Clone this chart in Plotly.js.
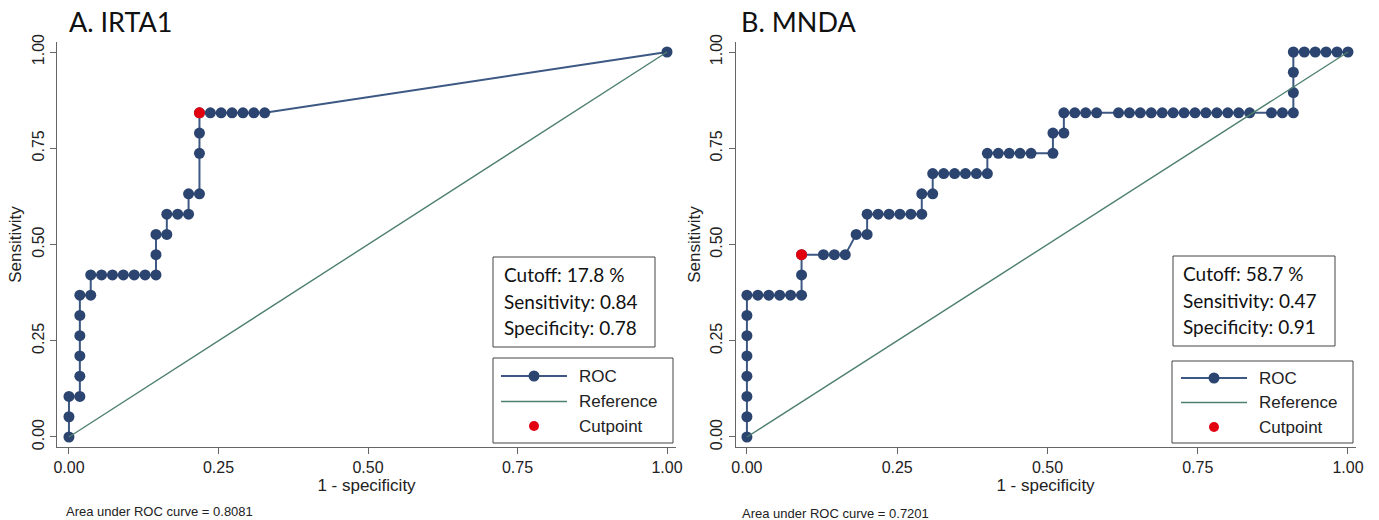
<!DOCTYPE html>
<html>
<head>
<meta charset="utf-8">
<script src="https://cdn.plot.ly/plotly-3.0.1.min.js"></script>
<style>html,body{margin:0;padding:0;background:#fff;}#chart{width:1379px;height:520px;}</style>
</head>
<body>
<div id="chart"></div>
<script>
// ---------- data ----------
// A. IRTA1 : 1 - specificity (x) and sensitivity (y)
var irtaX = [0,0,0,0.0182,0.0182,0.0182,0.0182,0.0182,0.0182,0.0364,0.0364,
  0.0545,0.0727,0.0909,0.1091,0.1273,0.1455,0.1455,0.1455,0.1636,0.1636,0.1818,
  0.2,0.2,0.2182,0.2182,0.2182,0.2182,0.2364,0.2545,0.2727,0.2909,0.3091,0.3273,1];
var irtaY = [0,0.0526,0.1053,0.1053,0.1579,0.2105,0.2632,0.3158,0.3684,0.3684,0.4211,
  0.4211,0.4211,0.4211,0.4211,0.4211,0.4211,0.4737,0.5263,0.5263,0.5789,0.5789,
  0.5789,0.6316,0.6316,0.7368,0.7895,0.8421,0.8421,0.8421,0.8421,0.8421,0.8421,0.8421,1];
var irtaCutX = [0.2182];
var irtaCutY = [0.8421];

// B. MNDA
var mndaX = [0,0,0,0,0,0,0,0,
  0.0182,0.0364,0.0545,0.0727,
  0.0909,0.0909,0.0909,
  0.1273,0.1455,0.1636,
  0.1818,
  0.2,0.2,
  0.2182,0.2364,0.2545,0.2727,
  0.2909,0.2909,
  0.3091,0.3091,
  0.3273,0.3455,0.3636,0.3818,
  0.4,0.4,
  0.4182,0.4364,0.4545,0.4727,
  0.5091,0.5091,
  0.5273,0.5273,
  0.5455,0.5636,0.5818,
  0.6182,0.6364,0.6545,0.6727,0.6909,0.7091,0.7273,0.7455,0.7636,0.7818,0.8,0.8182,0.8364,
  0.8727,0.8909,
  0.9091,0.9091,0.9091,0.9091,
  0.9273,0.9455,0.9636,0.9818,1];
var mndaY = [0,0.0526,0.1053,0.1579,0.2105,0.2632,0.3158,0.3684,
  0.3684,0.3684,0.3684,0.3684,
  0.3684,0.4211,0.4737,
  0.4737,0.4737,0.4737,
  0.5263,
  0.5263,0.5789,
  0.5789,0.5789,0.5789,0.5789,
  0.5789,0.6316,
  0.6316,0.6842,
  0.6842,0.6842,0.6842,0.6842,
  0.6842,0.7368,
  0.7368,0.7368,0.7368,0.7368,
  0.7368,0.7895,
  0.7895,0.8421,
  0.8421,0.8421,0.8421,
  0.8421,0.8421,0.8421,0.8421,0.8421,0.8421,0.8421,0.8421,0.8421,0.8421,0.8421,0.8421,0.8421,
  0.8421,0.8421,
  0.8421,0.8947,0.9474,1,
  1,1,1,1,1];
var mndaCutX = [0.0909];
var mndaCutY = [0.4737];

var refX = [0, 1];
var refY = [0, 1];

var tickVals = [0, 0.25, 0.5, 0.75, 1];
var tickText = ['0.00', '0.25', '0.50', '0.75', '1.00'];

var panelTitles = ['A. IRTA1', 'B. MNDA'];
var boxLines = [
  ['Cutoff: 17.8 %', 'Sensitivity: 0.84', 'Specificity: 0.78'],
  ['Cutoff: 58.7 %', 'Sensitivity: 0.47', 'Specificity: 0.91']
];
var aucText = ['Area under ROC curve = 0.8081', 'Area under ROC curve = 0.7201'];
var legendNames = ['ROC', 'Reference', 'Cutpoint'];

// ---------- styling ----------
var W = 1379, H = 520;
var NAVY = '#2b4570', NAVYLINE = '#3d5883', GREEN = '#4f806e', RED = '#e3000e';
var AX = '#666666';
var SANS = 'Liberation Sans, Arial, sans-serif';
var CAL = 'Lato, Open Sans, sans-serif';
function px(x) { return x / W; }
function py(y) { return 1 - y / H; }

function rocTrace(x, y, xa, ya) {
  return {x: x, y: y, xaxis: xa, yaxis: ya, type: 'scatter', mode: 'lines+markers',
    line: {color: NAVYLINE, width: 2}, marker: {color: NAVY, size: 11, line: {width: 0}},
    showlegend: false, hoverinfo: 'x+y'};
}
function refTrace(xa, ya) {
  return {x: refX, y: refY, xaxis: xa, yaxis: ya, type: 'scatter', mode: 'lines',
    line: {color: GREEN, width: 1.4}, showlegend: false, hoverinfo: 'skip'};
}
function cutTrace(x, y, xa, ya) {
  return {x: x, y: y, xaxis: xa, yaxis: ya, type: 'scatter', mode: 'markers',
    marker: {color: RED, size: 11, line: {width: 0}}, showlegend: false};
}

var data = [
  rocTrace(irtaX, irtaY, 'x', 'y'), refTrace('x', 'y'), cutTrace(irtaCutX, irtaCutY, 'x', 'y'),
  rocTrace(mndaX, mndaY, 'x2', 'y2'), refTrace('x2', 'y2'), cutTrace(mndaCutX, mndaCutY, 'x2', 'y2')
];

function xAxis(domain, range) {
  return {domain: domain, range: range, tickvals: tickVals, ticktext: tickText,
    showline: true, linecolor: AX, linewidth: 1, ticks: 'outside', ticklen: 6, tickcolor: AX,
    tickwidth: 1, showgrid: false, zeroline: false, fixedrange: true,
    tickfont: {family: SANS, size: 16, color: '#222'},
    title: {text: '1 - specificity', font: {family: SANS, size: 17, color: '#222'}, standoff: 2}};
}
function yAxis(domain, range) {
  return {domain: domain, range: range, tickvals: tickVals, ticktext: tickText,
    showline: true, linecolor: AX, linewidth: 1, ticks: 'outside', ticklen: 6, tickcolor: AX,
    tickwidth: 1, showgrid: false, zeroline: false, fixedrange: true, tickangle: -90,
    tickfont: {family: SANS, size: 16, color: '#222'},
    title: {text: 'Sensitivity', font: {family: SANS, size: 17, color: '#222'}, standoff: 3}};
}

var yDom = [py(447), py(42)];
var layout = {
  width: W, height: H,
  margin: {l: 0, r: 0, t: 0, b: 0, autoexpand: false},
  paper_bgcolor: '#fff', plot_bgcolor: '#fff',
  showlegend: false,
  xaxis: Object.assign(xAxis([px(57), px(676)], [-0.020, 1.015]), {anchor: 'y'}),
  yaxis: Object.assign(yAxis(yDom, [-0.026, 1.026]), {anchor: 'x'}),
  xaxis2: Object.assign(xAxis([px(735.5), px(1355.5)], [-0.019, 1.0125]), {anchor: 'y2'}),
  yaxis2: Object.assign(yAxis(yDom, [-0.026, 1.026]), {anchor: 'x2'}),
  shapes: [], annotations: []
};

var panels = [
  {tx: 67, bl: 493, br: 655, bt: 257, bb: 347, textX: 502, lineYs: [274, 301, 327],
   ll: 493, lr: 673, lt: 358, lb: 443, sl: 501, sr: 567, ltx: 577, rows: [376, 401.5, 426],
   ax: 64, ay: 511},
  {tx: 739, bl: 1173, br: 1335, bt: 256, bb: 346, textX: 1181, lineYs: [273, 300, 326],
   ll: 1172, lr: 1353, lt: 361, lb: 443, sl: 1181, sr: 1247, ltx: 1257, rows: [378, 402.5, 427],
   ax: 740, ay: 513}
];

panels.forEach(function (p, i) {
  layout.annotations.push({xref: 'paper', yref: 'paper', x: px(p.tx), y: py(22), xanchor: 'left', yanchor: 'middle',
    text: panelTitles[i], showarrow: false, font: {family: CAL, size: 27, color: '#111'}});
  layout.shapes.push({type: 'rect', xref: 'paper', yref: 'paper', x0: px(p.bl), x1: px(p.br), y0: py(p.bt), y1: py(p.bb),
    line: {color: '#444', width: 1}, fillcolor: '#fff'});
  boxLines[i].forEach(function (t, j) {
    layout.annotations.push({xref: 'paper', yref: 'paper', x: px(p.textX), y: py(p.lineYs[j]), xanchor: 'left', yanchor: 'middle',
      text: t, showarrow: false, font: {family: CAL, size: 19, color: '#111'}});
  });
  layout.shapes.push({type: 'rect', xref: 'paper', yref: 'paper', x0: px(p.ll), x1: px(p.lr), y0: py(p.lt), y1: py(p.lb),
    line: {color: '#444', width: 1}, fillcolor: '#fff'});
  var mid = (p.sl + p.sr) / 2;
  layout.shapes.push({type: 'line', xref: 'paper', yref: 'paper', x0: px(p.sl), x1: px(p.sr), y0: py(p.rows[0]), y1: py(p.rows[0]),
    line: {color: NAVYLINE, width: 2}});
  layout.shapes.push({type: 'circle', xref: 'paper', yref: 'paper', x0: px(mid - 5.5), x1: px(mid + 5.5), y0: py(p.rows[0] - 5.5), y1: py(p.rows[0] + 5.5),
    line: {width: 0}, fillcolor: NAVY});
  layout.shapes.push({type: 'line', xref: 'paper', yref: 'paper', x0: px(p.sl), x1: px(p.sr), y0: py(p.rows[1]), y1: py(p.rows[1]),
    line: {color: GREEN, width: 1.4}});
  layout.shapes.push({type: 'circle', xref: 'paper', yref: 'paper', x0: px(mid - 5), x1: px(mid + 5), y0: py(p.rows[2] - 5), y1: py(p.rows[2] + 5),
    line: {width: 0}, fillcolor: RED});
  legendNames.forEach(function (n, j) {
    layout.annotations.push({xref: 'paper', yref: 'paper', x: px(p.ltx), y: py(p.rows[j]), xanchor: 'left', yanchor: 'middle',
      text: n, showarrow: false, font: {family: SANS, size: 17, color: '#222'}});
  });
  layout.annotations.push({xref: 'paper', yref: 'paper', x: px(p.ax), y: py(p.ay), xanchor: 'left', yanchor: 'middle',
    text: aucText[i], showarrow: false, font: {family: SANS, size: 13, color: '#222'}});
});

Plotly.newPlot('chart', data, layout, {displayModeBar: false, staticPlot: true});
</script>
</body>
</html>
